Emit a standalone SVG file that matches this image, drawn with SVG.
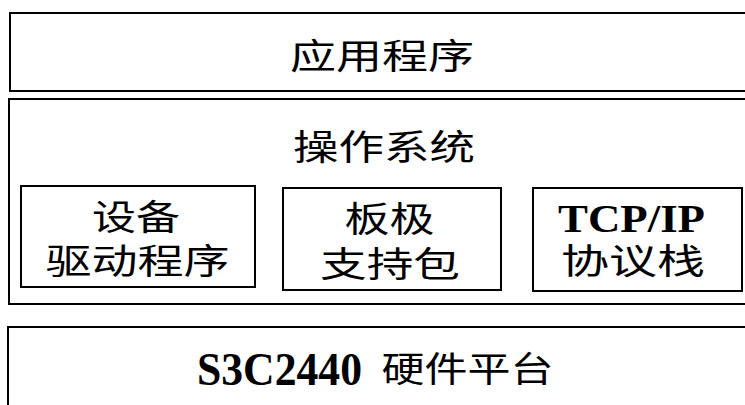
<svg xmlns="http://www.w3.org/2000/svg" width="745" height="405" viewBox="0 0 745 405">
<style>
.box{fill:none;stroke:#000;stroke-width:2}
.cjk{font-family:"Noto Sans CJK SC","Noto Sans",sans-serif;font-size:35px;fill:#000;text-anchor:middle}
.lat{font-family:"Liberation Serif","Times New Roman",serif;font-weight:bold;fill:#000;text-anchor:middle}
</style>
<rect width="745" height="405" fill="#fff"/>
<g id="app">
<rect class="box" x="10" y="13" width="740" height="78"/>
<text class="cjk" x="382" y="69" textLength="184" lengthAdjust="spacingAndGlyphs">应用程序</text>
</g>
<g id="os">
<rect class="box" x="9" y="99" width="741" height="205"/>
<text class="cjk" x="384" y="160" textLength="182" lengthAdjust="spacingAndGlyphs">操作系统</text>
</g>
<g id="driver">
<rect class="box" x="21" y="186" width="234" height="101"/>
<text class="cjk" x="136" y="230" textLength="88" lengthAdjust="spacingAndGlyphs">设备</text>
<text class="cjk" x="137.5" y="274" textLength="184" lengthAdjust="spacingAndGlyphs">驱动程序</text>
</g>
<g id="bsp">
<rect class="box" x="283" y="188" width="218" height="102"/>
<text class="cjk" x="389.5" y="232" textLength="90" lengthAdjust="spacingAndGlyphs">板极</text>
<text class="cjk" x="390" y="277" textLength="140" lengthAdjust="spacingAndGlyphs">支持包</text>
</g>
<g id="tcpip">
<rect class="box" x="533" y="188" width="209" height="103"/>
<text class="lat" x="631.5" y="232" font-size="40" textLength="147" lengthAdjust="spacingAndGlyphs">TCP/IP</text>
<text class="cjk" x="633" y="274" textLength="144" lengthAdjust="spacingAndGlyphs">协议栈</text>
</g>
<g id="hw">
<rect class="box" x="8" y="327" width="742" height="90"/>
<text class="lat" x="279.5" y="385" font-size="46" textLength="165" lengthAdjust="spacingAndGlyphs">S3C2440</text>
<text class="cjk" x="467.5" y="382" textLength="172" lengthAdjust="spacingAndGlyphs">硬件平台</text>
</g>
<g id="connectors"></g>
</svg>
